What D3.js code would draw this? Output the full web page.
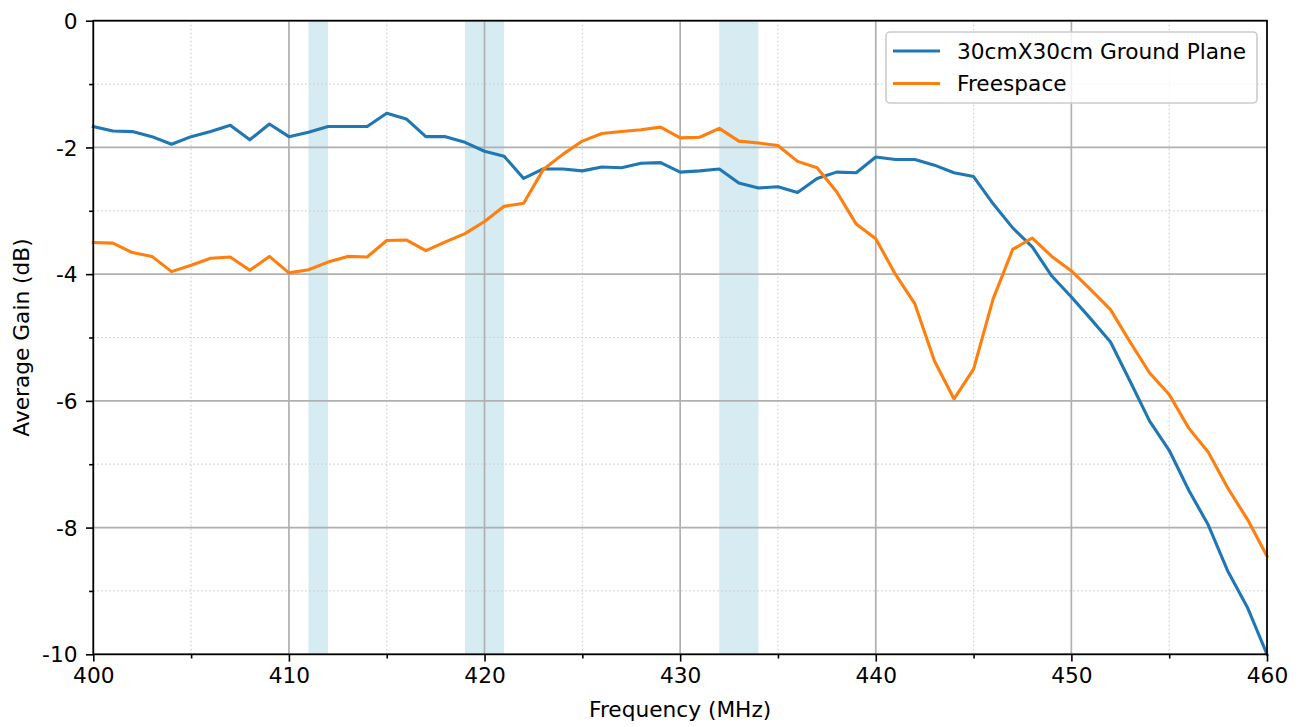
<!DOCTYPE html>
<html><head><meta charset="utf-8">
<script src="https://cdn.jsdelivr.net/npm/d3@7"></script>
<style>body{margin:0;background:#fff}svg{display:block}text{font-family:"DejaVu Sans",sans-serif;fill:#000}</style>
</head><body><svg id="c" width="1302" height="727"></svg>
<script>
const freqs = d3.range(400, 461, 1);
const groundPlane = [-1.67,-1.74,-1.75,-1.83,-1.95,-1.83,-1.75,-1.65,-1.88,-1.63,
  -1.83,-1.76,-1.67,-1.67,-1.67,-1.46,-1.55,-1.83,-1.83,-1.92,
  -2.06,-2.14,-2.49,-2.34,-2.34,-2.37,-2.31,-2.32,-2.25,-2.24,
  -2.39,-2.37,-2.34,-2.56,-2.64,-2.62,-2.71,-2.49,-2.39,-2.40,
  -2.15,-2.19,-2.19,-2.28,-2.40,-2.46,-2.89,-3.27,-3.57,-4.03,
  -4.36,-4.71,-5.07,-5.69,-6.32,-6.78,-7.41,-7.96,-8.69,-9.26,-10.0];
const freespace = [-3.50,-3.51,-3.66,-3.72,-3.96,-3.86,-3.75,-3.73,-3.94,-3.72,
  -3.98,-3.93,-3.81,-3.72,-3.73,-3.47,-3.46,-3.63,-3.49,-3.36,
  -3.17,-2.93,-2.88,-2.35,-2.11,-1.90,-1.78,-1.75,-1.72,-1.68,
  -1.85,-1.84,-1.70,-1.90,-1.93,-1.97,-2.22,-2.32,-2.70,-3.21,
  -3.44,-4.00,-4.47,-5.37,-5.97,-5.50,-4.39,-3.61,-3.43,-3.72,
  -3.95,-4.25,-4.56,-5.07,-5.56,-5.90,-6.43,-6.81,-7.38,-7.87,-8.45];
const seriesNames = ["30cmX30cm Ground Plane", "Freespace"];
const seriesColors = ["#1f77b4", "#ff7f0e"];
const bands = [[411,412],[419,421],[432,434]];
const xMajor = [400,410,420,430,440,450,460];
const xMinor = [405,415,425,435,445,455];
const yMajor = [0,-2,-4,-6,-8,-10];
const yMinor = [-1,-3,-5,-7,-9];
const xLabel = "Frequency (MHz)";
const yLabel = "Average Gain (dB)";

const L = 93.3, T = 20.7, R = 1267, B = 654.3;
const FS = 21.7;
const x = d3.scaleLinear().domain([400,460]).range([L,R]);
const y = d3.scaleLinear().domain([-10,0]).range([B,T]);
const svg = d3.select("#c");

// bands
svg.append("g").selectAll("rect").data(bands).join("rect")
  .attr("x", d=>x(d[0])).attr("width", d=>x(d[1])-x(d[0]))
  .attr("y", T).attr("height", B-T).attr("fill", "#add8e6").attr("fill-opacity", 0.5);

// grid
const g = svg.append("g");
g.selectAll(".mnx").data(xMinor).join("line").attr("x1",d=>x(d)).attr("x2",d=>x(d)).attr("y1",T).attr("y2",B)
  .attr("stroke","#cfcfcf").attr("stroke-width",1.2).attr("stroke-dasharray","1.5,2.5");
g.selectAll(".mny").data(yMinor).join("line").attr("y1",d=>y(d)).attr("y2",d=>y(d)).attr("x1",L).attr("x2",R)
  .attr("stroke","#cfcfcf").attr("stroke-width",1.2).attr("stroke-dasharray","1.5,2.5");
g.selectAll(".mjx").data(xMajor).join("line").attr("x1",d=>x(d)).attr("x2",d=>x(d)).attr("y1",T).attr("y2",B)
  .attr("stroke","#b0b0b0").attr("stroke-width",1.7);
g.selectAll(".mjy").data(yMajor).join("line").attr("y1",d=>y(d)).attr("y2",d=>y(d)).attr("x1",L).attr("x2",R)
  .attr("stroke","#b0b0b0").attr("stroke-width",1.7);

// lines
const line = d3.line().x((d,i)=>x(freqs[i])).y(d=>y(d));
[groundPlane, freespace].forEach((s,k)=>{
  svg.append("path").datum(s).attr("d", line).attr("fill","none")
    .attr("stroke", seriesColors[k]).attr("stroke-width",3.1).attr("stroke-linejoin","round").attr("stroke-linecap","square");
});

// axes
const xAxis = d3.axisBottom(x).tickValues(xMajor).tickSize(7.3).tickPadding(5.5).tickFormat(d3.format("d"));
const xg = svg.append("g").attr("transform",`translate(0,${B})`).call(xAxis);
const yAxis = d3.axisLeft(y).tickValues(yMajor).tickSize(7.3).tickPadding(8.5).tickFormat(d=>String(d).replace("\u2212","-"));
const yg = svg.append("g").attr("transform",`translate(${L},0)`).call(yAxis);
svg.append("g").attr("transform",`translate(0,${B})`).call(d3.axisBottom(x).tickValues(xMinor).tickSize(4.2).tickFormat(""));
svg.append("g").attr("transform",`translate(${L},0)`).call(d3.axisLeft(y).tickValues(yMinor).tickSize(4.2).tickFormat(""));
svg.selectAll(".domain").remove();
svg.selectAll(".tick line").attr("stroke","#000").attr("stroke-width",1.6);
svg.selectAll(".tick text").attr("font-size",FS).attr("font-family","DejaVu Sans").attr("fill","#000");
yg.selectAll(".tick text").attr("dy","0.35em");
svg.append("rect").attr("x",L).attr("y",T).attr("width",R-L).attr("height",B-T)
  .attr("fill","none").attr("stroke","#000").attr("stroke-width",1.7);

svg.append("text").attr("x",(L+R)/2).attr("y",717).attr("text-anchor","middle").attr("font-size",FS).text(xLabel);
svg.append("text").attr("transform",`translate(29,${(T+B)/2}) rotate(-90)`).attr("text-anchor","middle").attr("font-size",FS).text(yLabel);

// legend
const lg = svg.append("g");
lg.append("rect").attr("x",886).attr("y",32).attr("width",371).attr("height",71).attr("rx",4)
  .attr("fill","#fff").attr("fill-opacity",0.8).attr("stroke","#cccccc").attr("stroke-width",1.6);
seriesNames.forEach((n,k)=>{
  const cy = 51 + k*32.5;
  lg.append("line").attr("x1",893).attr("x2",940).attr("y1",cy).attr("y2",cy).attr("stroke",seriesColors[k]).attr("stroke-width",3.1);
  lg.append("text").attr("x",957).attr("y",cy).attr("dy","0.35em").attr("font-size",FS).text(n);
});
</script></body></html>
